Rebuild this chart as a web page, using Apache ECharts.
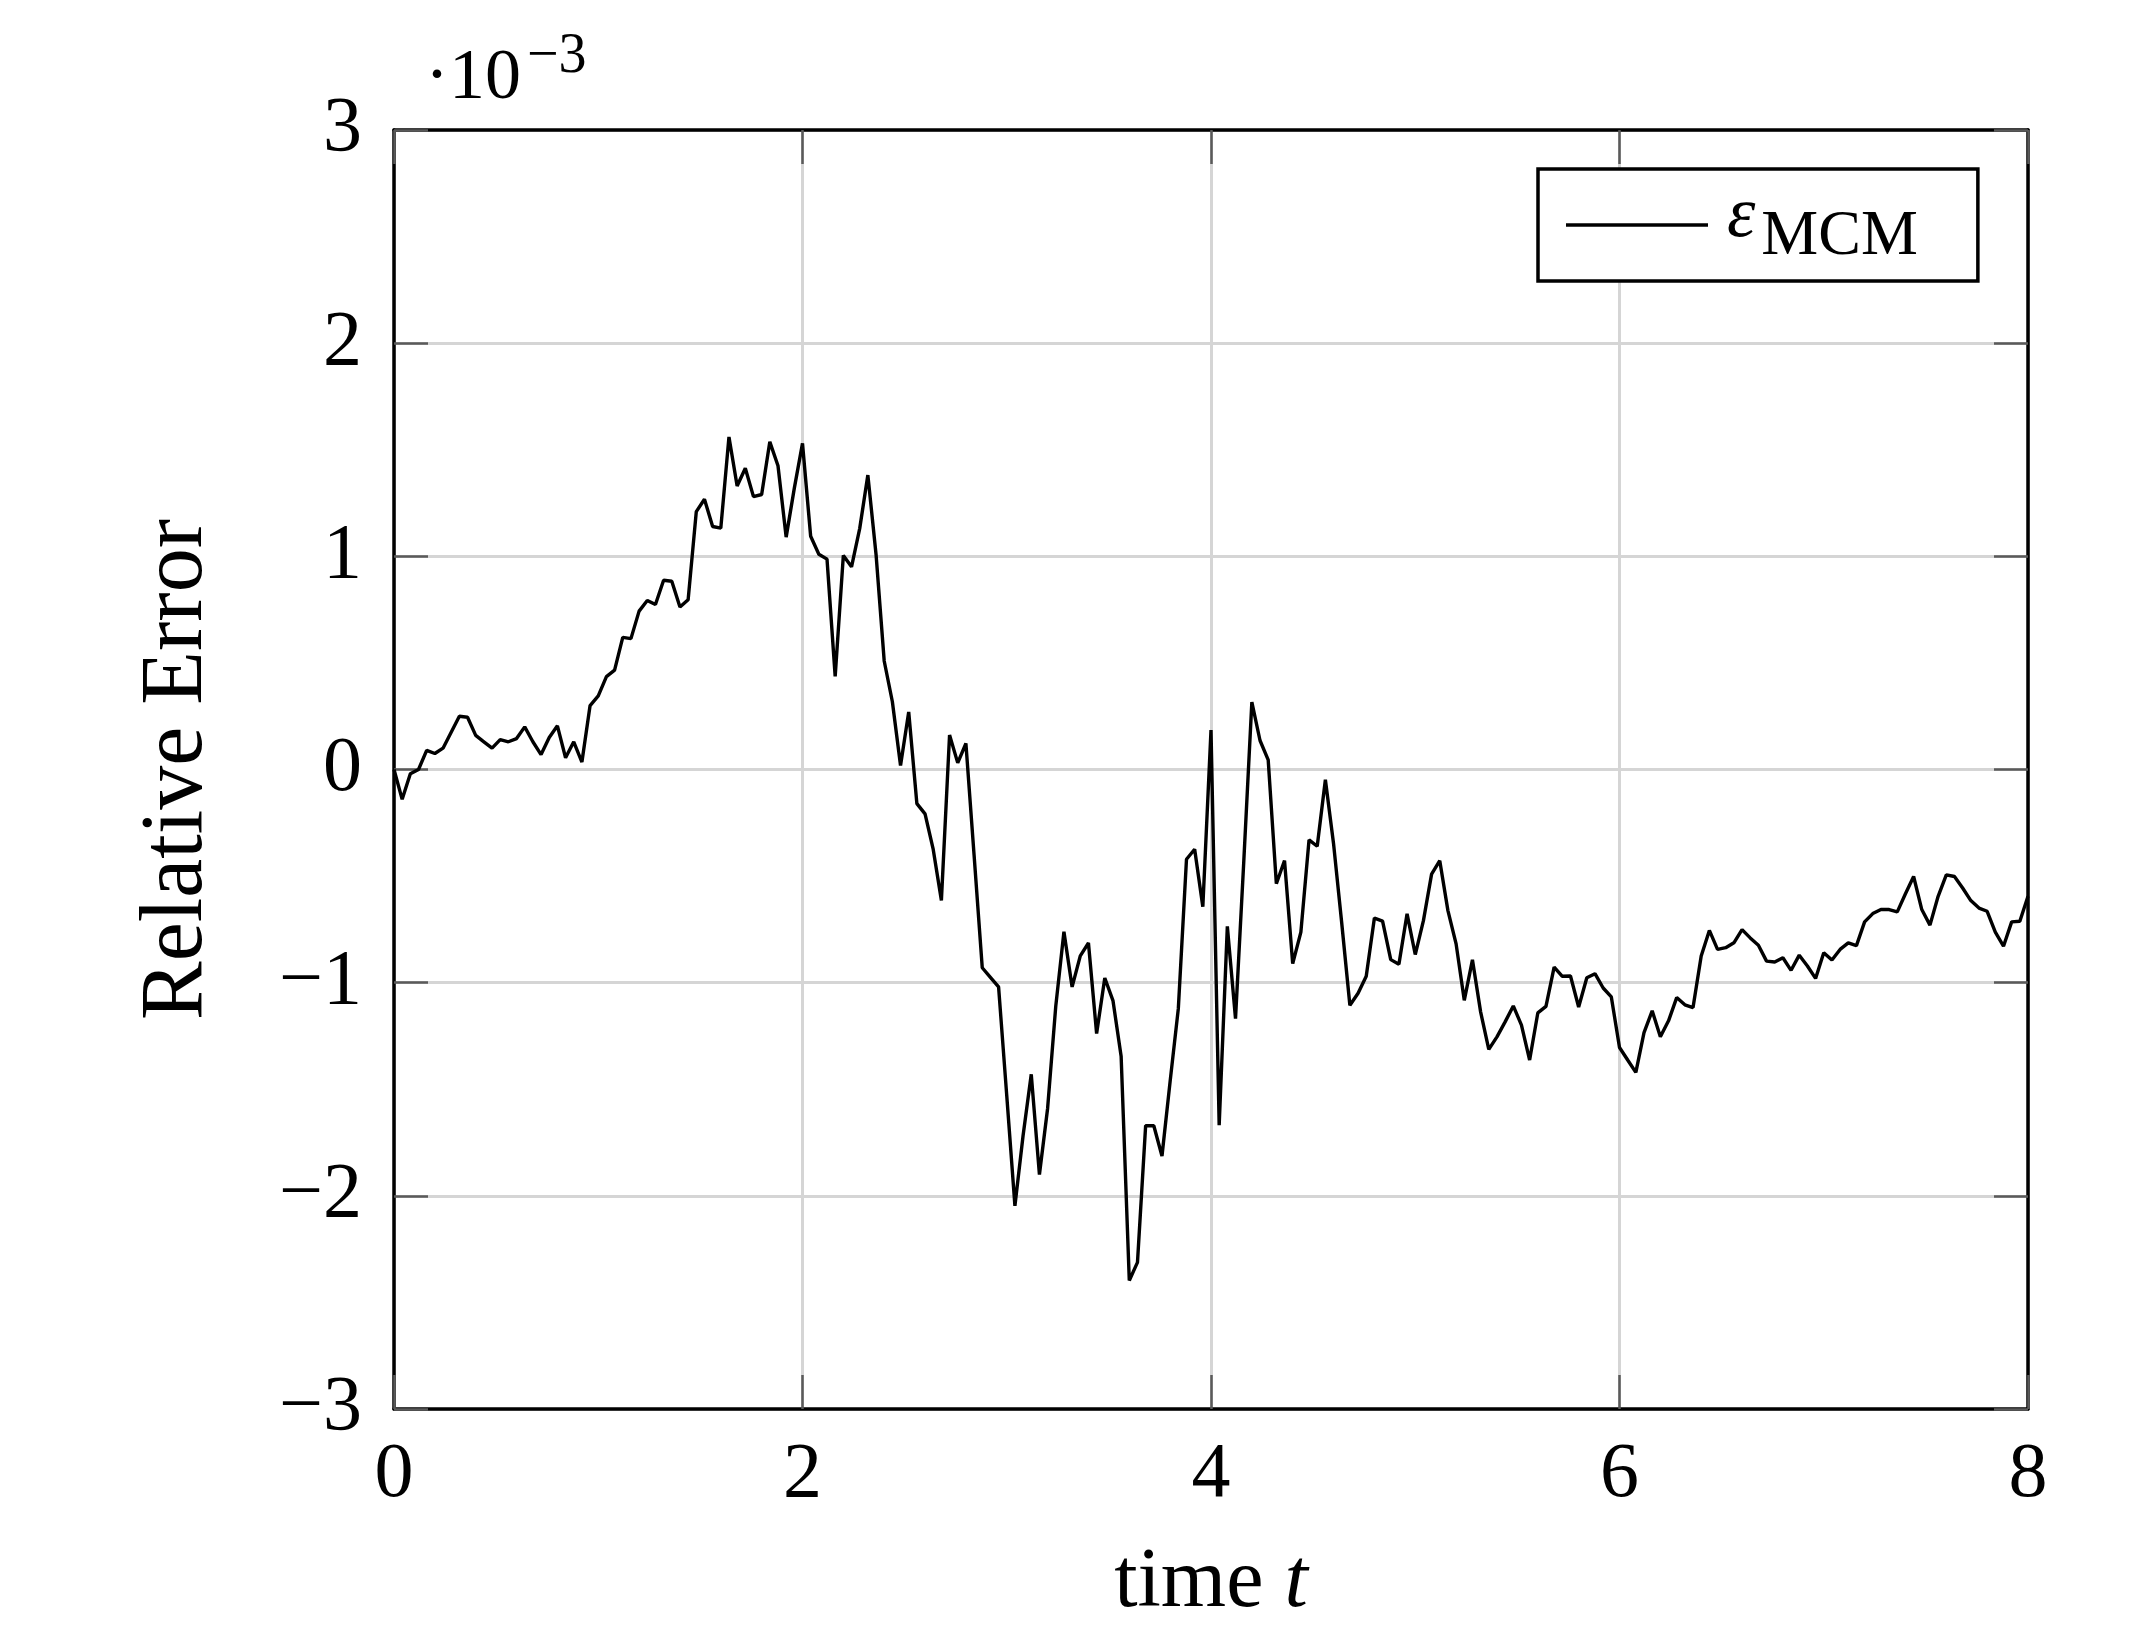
<!DOCTYPE html>
<html>
<head>
<meta charset="utf-8">
<script src="https://cdn.jsdelivr.net/npm/echarts@6/dist/echarts.min.js"></script>
<style>
html,body{margin:0;padding:0;background:#fff;}
#chart{width:2153px;height:1649px;}
</style>
</head>
<body>
<div id="chart"></div>
<script>
// sample spacing of the time grid
const timeStep = 0.04;
// relative error values, in units of 1e-3, one per sample
const errMilli = [
  0, -0.14, -0.02, 0.00, 0.09, 0.075, 0.10, 0.175, 0.25, 0.245,
  0.16, 0.13, 0.10, 0.14, 0.13, 0.145, 0.20, 0.13, 0.07, 0.15,
  0.205, 0.055, 0.13, 0.035, 0.30, 0.345, 0.436, 0.466, 0.62, 0.614,
  0.743, 0.793, 0.774, 0.888, 0.883, 0.762, 0.796, 1.21, 1.268, 1.14,
  1.132, 1.56, 1.33, 1.413, 1.28, 1.29, 1.537, 1.425, 1.09, 1.32,
  1.53, 1.094, 1.01, 0.987, 0.437, 1.004, 0.951, 1.13, 1.381, 1.01,
  0.509, 0.318, 0.019, 0.27, -0.16, -0.208, -0.375, -0.614, 0.162, 0.031,
  0.122, -0.40, -0.93, -0.975, -1.02, -1.53, -2.047, -1.717, -1.43, -1.90,
  -1.59, -1.11, -0.761, -1.02, -0.874, -0.814, -1.239, -0.978, -1.084, -1.345,
  -2.397, -2.312, -1.671, -1.671, -1.813, -1.462, -1.122, -0.421, -0.374, -0.644,
  0.185, -1.669, -0.736, -1.169, -0.44, 0.316, 0.136, 0.045, -0.536, -0.427,
  -0.911, -0.763, -0.33, -0.36, -0.048, -0.348, -0.72, -1.106, -1.05, -0.97,
  -0.697, -0.711, -0.892, -0.914, -0.677, -0.868, -0.709, -0.491, -0.428, -0.662,
  -0.818, -1.083, -0.893, -1.137, -1.313, -1.254, -1.184, -1.109, -1.199, -1.363,
  -1.142, -1.111, -0.927, -0.97, -0.969, -1.114, -0.977, -0.958, -1.025, -1.067,
  -1.304, -1.363, -1.421, -1.234, -1.132, -1.254, -1.179, -1.07, -1.104, -1.117,
  -0.875, -0.755, -0.844, -0.836, -0.813, -0.751, -0.79, -0.824, -0.899, -0.903,
  -0.883, -0.942, -0.871, -0.922, -0.98, -0.86, -0.894, -0.844, -0.813, -0.826,
  -0.715, -0.676, -0.657, -0.657, -0.668, -0.583, -0.502, -0.657, -0.73, -0.595,
  -0.494, -0.502, -0.556, -0.615, -0.65, -0.665, -0.763, -0.829, -0.715, -0.712,
  -0.595
];
const xTicks = [0, 2, 4, 6, 8];
const yTicks = [-3, -2, -1, 0, 1, 2, 3];
const seriesName = 'eps_MCM';

const serif = '"Liberation Serif", "DejaVu Serif", serif';
const times = errMilli.map((_, i) => +(i * timeStep).toFixed(2));
const seriesData = errMilli.map((v, i) => [times[i], v]);
const fmt = v => (v < 0 ? '\u2212' + Math.abs(v) : String(v));

const chart = echarts.init(document.getElementById('chart'), null, {renderer: 'canvas'});
const axisCommon = {
  axisLine: {show: true, onZero: false, lineStyle: {color: '#000', width: 3.5}},
  axisTick: {show: true, inside: true, length: 34, lineStyle: {color: '#5a5a5a', width: 2.5}},
  splitLine: {show: false}
};
chart.setOption({
  animation: false,
  backgroundColor: '#fff',
  title: {
    text: '\u00b710{sup|\u22123}',
    left: 420,
    top: 24,
    textStyle: {
      fontFamily: serif, fontSize: 72, fontWeight: 'normal', color: '#000',
      rich: {sup: {fontFamily: serif, fontSize: 56, color: '#000', verticalAlign: 'top', padding: [0, 0, 44, 6]}}
    }
  },
  legend: {
    data: [seriesName],
    left: 1538,
    top: 169,
    orient: 'vertical',
    padding: [12, 60, 12, 28],
    borderColor: '#000',
    borderWidth: 3.5,
    backgroundColor: '#fff',
    icon: 'rect',
    itemWidth: 142,
    itemHeight: 3.5,
    formatter: () => '{e|\u03b5}{s|MCM}',
    textStyle: {
      color: '#000',
      rich: {
        e: {fontFamily: serif, fontStyle: 'italic', fontSize: 72, color: '#000', verticalAlign: 'bottom', padding: [0, 6, 16, 14]},
        s: {fontFamily: serif, fontSize: 64, color: '#000', verticalAlign: 'bottom'}
      }
    }
  },
  grid: {
    left: 394, top: 130, right: 125, bottom: 240,
    show: false,
    containLabel: false
  },
  xAxis: [
    {
      type: 'value', min: 0, max: 8, interval: 2, position: 'bottom',
      ...axisCommon,
      splitLine: {show: true, lineStyle: {color: '#d5d5d5', width: 3}},
      axisLabel: {
        fontFamily: serif, fontSize: 78, color: '#000', margin: 28,
        formatter: v => (xTicks.includes(v) ? fmt(v) : '')
      },
      name: '{n|time }{t|t}',
      nameLocation: 'middle',
      nameGap: 133,
      nameTextStyle: {
        rich: {
          n: {fontFamily: serif, fontSize: 84, color: '#000'},
          t: {fontFamily: serif, fontSize: 84, fontStyle: 'italic', color: '#000'}
        }
      }
    },
    {
      type: 'value', min: 0, max: 8, interval: 2, position: 'top',
      ...axisCommon, axisLabel: {show: false}
    }
  ],
  yAxis: [
    {
      type: 'value', min: -3, max: 3, interval: 1, position: 'left',
      ...axisCommon,
      splitLine: {show: true, lineStyle: {color: '#d5d5d5', width: 3}},
      axisLabel: {
        fontFamily: serif, fontSize: 78, color: '#000', margin: 32,
        formatter: v => (yTicks.includes(v) ? fmt(v) : '')
      },
      name: 'Relative Error',
      nameLocation: 'middle',
      nameGap: 172,
      nameRotate: 90,
      nameTextStyle: {fontFamily: serif, fontSize: 88, color: '#000'}
    },
    {
      type: 'value', min: -3, max: 3, interval: 1, position: 'right',
      ...axisCommon, axisLabel: {show: false}
    }
  ],
  series: [{
    name: seriesName,
    type: 'line',
    data: seriesData,
    showSymbol: false,
    symbol: 'none',
    lineStyle: {color: '#000', width: 3.4},
    itemStyle: {color: '#000'},
    z: 3
  }]
});
</script>
</body>
</html>
